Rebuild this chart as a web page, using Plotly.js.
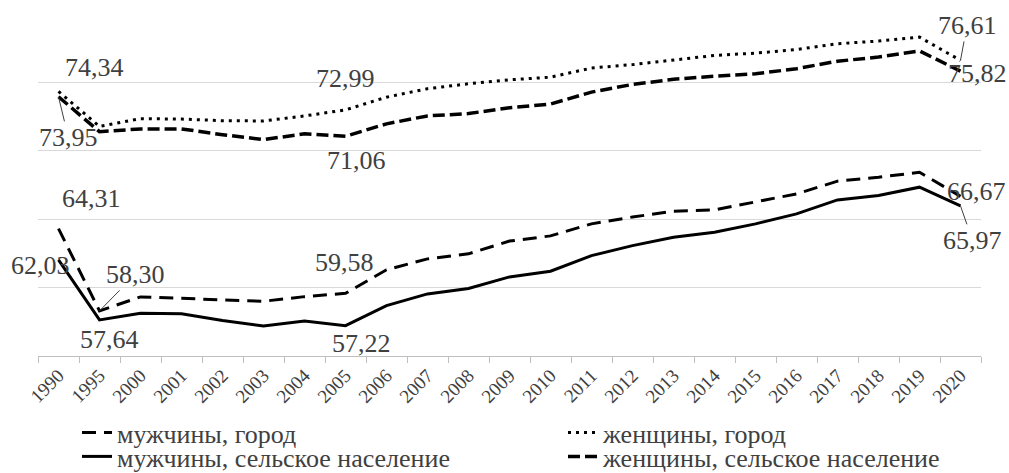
<!DOCTYPE html>
<html><head><meta charset="utf-8">
<script src="https://cdn.plot.ly/plotly-3.0.1.min.js"></script>
<style>html,body{margin:0;padding:0;background:#fff;} #chart{width:1009px;height:473px;}</style>
</head><body><div id="chart"></div>
<script>
const years = ['1990','1995','2000','2001','2002','2003','2004','2005','2006','2007','2008','2009','2010','2011','2012','2013','2014','2015','2016','2017','2018','2019','2020'];

const menUrban   = [64.31, 58.30, 59.32, 59.22, 59.10, 59.00, 59.34, 59.58, 61.30, 62.10, 62.47, 63.40, 63.78, 64.66, 65.16, 65.58, 65.68, 66.24, 66.85, 67.78, 68.07, 68.43, 66.67];
const menRural   = [62.03, 57.64, 58.12, 58.08, 57.59, 57.20, 57.56, 57.22, 58.68, 59.54, 59.94, 60.78, 61.20, 62.34, 63.07, 63.68, 64.05, 64.66, 65.39, 66.41, 66.73, 67.34, 65.97];
const womenUrban = [74.34, 71.78, 72.35, 72.32, 72.20, 72.18, 72.55, 72.99, 73.92, 74.54, 74.90, 75.19, 75.38, 76.05, 76.30, 76.63, 76.97, 77.14, 77.40, 77.83, 78.02, 78.31, 76.61];
const womenRural = [73.95, 71.40, 71.60, 71.60, 71.18, 70.82, 71.24, 71.06, 71.97, 72.55, 72.72, 73.15, 73.42, 74.29, 74.85, 75.23, 75.45, 75.63, 76.00, 76.55, 76.85, 77.30, 75.82];

const seriesNames = ['мужчины, город', 'женщины, город', 'мужчины, сельское население', 'женщины, сельское население'];

const FONT = '"Liberation Serif", "Times New Roman", serif';
const TXT = '#404040';

const traces = [
  {name: seriesNames[0], y: menUrban,   line: {color: '#000', width: 3, dash: '14px,8px'}, legend: 'legend'},
  {name: seriesNames[1], y: womenUrban, line: {color: '#000', width: 3, dash: '3px,5px'}, legend: 'legend2'},
  {name: seriesNames[2], y: menRural,   line: {color: '#000', width: 3}, legend: 'legend3'},
  {name: seriesNames[3], y: womenRural, line: {color: '#000', width: 3.5, dash: '12px,5px'}, legend: 'legend4'}
].map(t => Object.assign({type: 'scatter', mode: 'lines', x: years, hoverinfo: 'skip'}, t));

// data labels: series, category index, pixel offset of label centre, leader line
const labelSpecs = [
  {s: womenUrban, i: 0,  dx: 35.5, dy: -24.3, lead: false},
  {s: womenRural, i: 0,  dx: 9.8,  dy: 40.6,  lead: true},
  {s: womenUrban, i: 7,  dx: -0.5, dy: -31.2, lead: false},
  {s: womenRural, i: 7,  dx: 11.2, dy: 24.1,  lead: false},
  {s: womenUrban, i: 22, dx: 6.5,  dy: -35,   lead: true},
  {s: womenRural, i: 22, dx: 16.5, dy: 2.5,   lead: false},
  {s: menUrban,   i: 0,  dx: 32.8, dy: -30,   lead: false},
  {s: menRural,   i: 0,  dx: -18.2,dy: 5.5,   lead: false},
  {s: menUrban,   i: 1,  dx: 35.8, dy: -36.5, lead: true},
  {s: menRural,   i: 1,  dx: 9.8,  dy: 19.7,  lead: false},
  {s: menUrban,   i: 7,  dx: -1.5, dy: -31.3, lead: false},
  {s: menRural,   i: 7,  dx: 15.5, dy: 17.4,  lead: false},
  {s: menUrban,   i: 22, dx: 16,   dy: -5,    lead: false},
  {s: menRural,   i: 22, dx: 12,   dy: 34.4,  lead: true}
];

const annotations = labelSpecs.map(sp => {
  const a = {
    x: sp.i, y: sp.s[sp.i], xref: 'x', yref: 'y',
    text: sp.s[sp.i].toFixed(2).replace('.', ','),
    font: {family: FONT, size: 26, color: TXT},
    xanchor: 'center', yanchor: 'middle'
  };
  if (sp.lead) {
    Object.assign(a, {showarrow: true, ax: sp.dx, ay: sp.dy, axref: 'pixel', ayref: 'pixel',
      arrowhead: 0, arrowwidth: 1, arrowcolor: '#404040', standoff: 0, startstandoff: 0});
  } else {
    Object.assign(a, {showarrow: false, xshift: sp.dx, yshift: -sp.dy});
  }
  return a;
});

const W = 1009, H = 473;
function legendAt(px, py) {
  return {xref: 'container', yref: 'container', x: px / W, y: 1 - py / H,
    xanchor: 'left', yanchor: 'middle', orientation: 'h',
    font: {family: FONT, size: 26, color: TXT}, bgcolor: 'rgba(0,0,0,0)', borderwidth: 0};
}

const layout = {
  width: W, height: H,
  margin: {l: 38, r: 28, t: 14, b: 117, autoexpand: false},
  paper_bgcolor: '#fff', plot_bgcolor: '#fff',
  font: {family: FONT, color: TXT},
  showlegend: true,
  legend: legendAt(77, 432.5),
  legend2: legendAt(563, 432.5),
  legend3: legendAt(77, 456.5),
  legend4: legendAt(563, 456.5),
  xaxis: {
    type: 'category', range: [-0.5, 22.5], tickson: 'boundaries',
    ticks: 'outside', ticklen: 6, tickcolor: '#bfbfbf', tickwidth: 1,
    showline: true, linecolor: '#bfbfbf', linewidth: 1,
    showgrid: false, zeroline: false, tickangle: -45,
    tickfont: {family: FONT, size: 19, color: TXT}, fixedrange: true
  },
  yaxis: {
    range: [55, 80], tick0: 55, dtick: 5, showticklabels: false, ticks: '',
    showgrid: true, gridcolor: '#d9d9d9', gridwidth: 1,
    zeroline: false, showline: false, fixedrange: true
  },
  annotations: annotations
};

Plotly.newPlot('chart', traces, layout, {staticPlot: true, displayModeBar: false});
</script>
</body></html>
